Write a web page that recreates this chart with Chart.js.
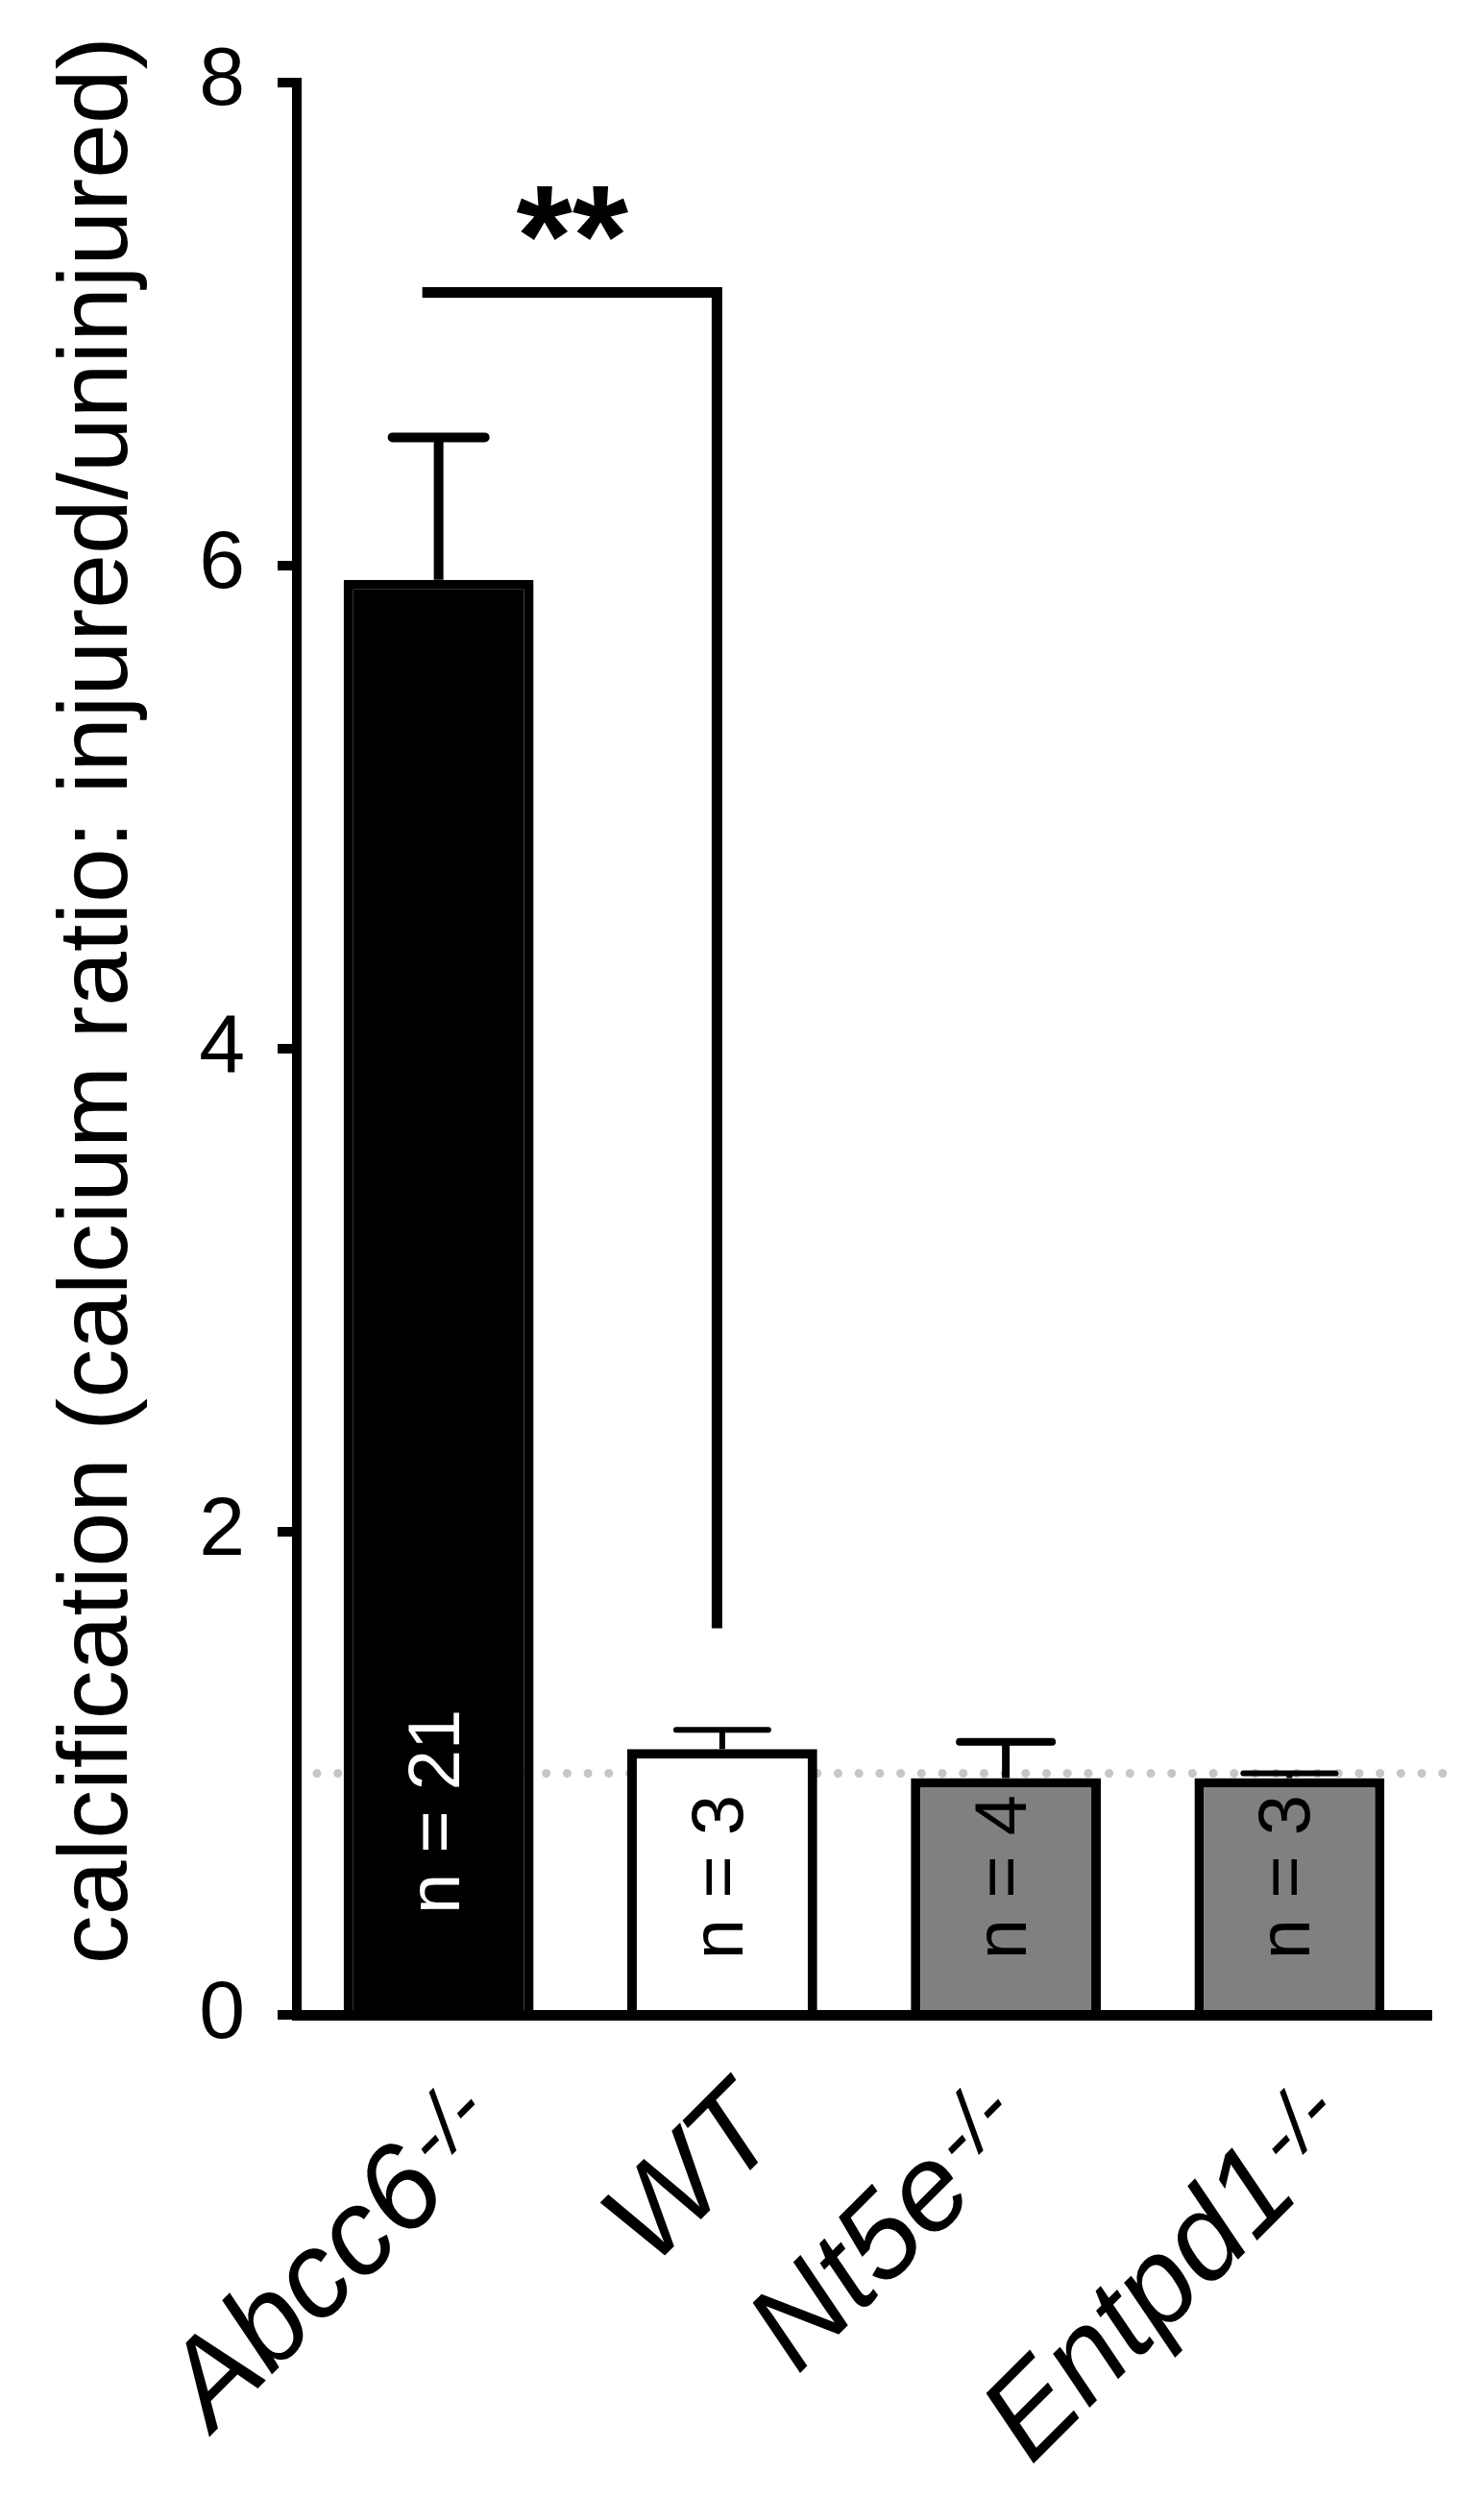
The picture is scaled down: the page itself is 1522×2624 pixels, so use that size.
<!DOCTYPE html>
<html><head><meta charset="utf-8">
<script src="https://cdn.jsdelivr.net/npm/chart.js@4.4.1/dist/chart.umd.min.js"></script>
<style>html,body{margin:0;padding:0;background:#fff;} canvas{display:block;}</style>
</head><body>
<canvas id="c" width="1522" height="2624"></canvas>
<script>
// ---------------- data ----------------
const categories = ['Abcc6', 'WT', 'Nt5e', 'Entpd1'];
const genotypeSuffix = ['-/-', '', '-/-', '-/-'];
const meanValues = [5.94, 1.10, 0.98, 0.98];
const errorValues = [0.59, 0.08, 0.15, 0.02];
const sampleSizes = [21, 3, 4, 3];
const yTickValues = [0, 2, 4, 6, 8];
const referenceValue = [1.0];
const comparisonPair = [0, 1];
const comparisonLevels = [7.13, 1.6];
const comparisonLabel = '**';
const yAxisTitle = 'calcification (calcium ratio: injured/uninjured)';

// ---------------- styles ----------------
const FONT = '"Liberation Sans", Arial, Helvetica, sans-serif';
const barFills = ['#000000', '#ffffff', '#808080', '#808080'];
const nLabelColors = ['#ffffff', '#000000', '#000000', '#000000'];
const nLabelStart = [0.417, 0.23, 0.23, 0.23];   // where the rotated text starts (value units)
const errLineWidths = [10, 6, 8, 6];
const xLabelShift = [0, -10, -42, 0];             // fine horizontal nudges of category labels (px)

const overlay = {
  id: 'overlay',
  beforeDatasetsDraw(chart) {
    const {ctx, chartArea, scales: {y}} = chart;
    const yy = y.getPixelForValue(referenceValue[0]);
    ctx.save();
    ctx.strokeStyle = '#c6c6c6';
    ctx.lineWidth = 9;
    ctx.lineCap = 'round';
    ctx.setLineDash([0, 21.7]);
    ctx.beginPath();
    ctx.moveTo(chartArea.left + 21, yy);
    ctx.lineTo(chartArea.right + 12, yy);
    ctx.stroke();
    ctx.restore();
  },
  afterDatasetsDraw(chart) {
    const {ctx, chartArea, scales: {x, y}} = chart;
    ctx.save();
    // error bars (upper only)
    ctx.strokeStyle = '#000';
    meanValues.forEach((v, i) => {
      const cx = x.getPixelForValue(i);
      const top = y.getPixelForValue(v);
      const ey = y.getPixelForValue(v + errorValues[i]);
      ctx.lineWidth = errLineWidths[i];
      ctx.lineCap = 'butt';
      ctx.beginPath(); ctx.moveTo(cx, top); ctx.lineTo(cx, ey); ctx.stroke();
      ctx.lineCap = 'round';
      ctx.beginPath(); ctx.moveTo(cx - 48, ey); ctx.lineTo(cx + 48, ey); ctx.stroke();
    });
    // n labels
    ctx.font = '76px ' + FONT;
    ctx.textAlign = 'left';
    ctx.textBaseline = 'middle';
    sampleSizes.forEach((n, i) => {
      const cx = x.getPixelForValue(i);
      const sy = y.getPixelForValue(nLabelStart[i]);
      ctx.save();
      ctx.translate(cx, sy);
      ctx.rotate(-Math.PI / 2);
      ctx.fillStyle = nLabelColors[i];
      ctx.fillText('n = ' + n, 0, 0);
      ctx.restore();
    });
    // significance bracket
    const x1 = x.getPixelForValue(comparisonPair[0]) - 17;
    const x2 = x.getPixelForValue(comparisonPair[1]);
    const yTop = y.getPixelForValue(comparisonLevels[0]);
    const yBot = y.getPixelForValue(comparisonLevels[1]);
    ctx.lineWidth = 11;
    ctx.lineCap = 'butt';
    ctx.lineJoin = 'miter';
    ctx.beginPath();
    ctx.moveTo(x1, yTop);
    ctx.lineTo(x2 - 5.5, yTop);
    ctx.lineTo(x2 - 5.5, yBot);
    ctx.stroke();
    ctx.fillStyle = '#000';
    ctx.font = 'bold 150px ' + FONT;
    ctx.textAlign = 'center';
    ctx.textBaseline = 'alphabetic';
    ctx.fillText(comparisonLabel, (x1 + x2) / 2, yTop - 6);
    ctx.restore();
  },
  afterDraw(chart) {
    const {ctx, chartArea, scales: {x}} = chart;
    ctx.save();
    ctx.fillStyle = '#000';
    // y axis title
    ctx.save();
    ctx.font = '102px ' + FONT;
    ctx.textAlign = 'center';
    ctx.textBaseline = 'alphabetic';
    ctx.translate(132, (chartArea.top + chartArea.bottom) / 2 - 50);
    ctx.rotate(-Math.PI / 2);
    ctx.fillText(yAxisTitle, 0, 0);
    ctx.restore();
    // x category labels (italic, rotated 45deg, with superscript)
    const mainSize = 126, supSize = 86, gap = 6;
    categories.forEach((lab, i) => {
      const cx = x.getPixelForValue(i);
      ctx.save();
      ctx.translate(cx + 75 + xLabelShift[i], chartArea.bottom + 126);
      ctx.rotate(-Math.PI / 4);
      ctx.textBaseline = 'alphabetic';
      ctx.textAlign = 'left';
      ctx.font = 'italic ' + mainSize + 'px ' + FONT;
      const wm = ctx.measureText(lab).width;
      let ws = 0;
      const sup = genotypeSuffix[i];
      if (sup) {
        ctx.font = 'italic ' + supSize + 'px ' + FONT;
        ws = ctx.measureText(sup).width + gap;
      }
      ctx.font = 'italic ' + mainSize + 'px ' + FONT;
      ctx.fillText(lab, -(wm + ws), 0);
      if (sup) {
        ctx.font = 'italic ' + supSize + 'px ' + FONT;
        ctx.fillText(sup, -(ws - gap), -30);
      }
      ctx.restore();
    });
    ctx.restore();
  }
};

new Chart(document.getElementById('c'), {
  type: 'bar',
  data: {
    labels: categories,
    datasets: [{
      data: meanValues,
      backgroundColor: barFills,
      borderColor: '#000000',
      borderWidth: 10,
      borderSkipped: 'start',
      categoryPercentage: 1.0,
      barPercentage: 0.67
    }]
  },
  options: {
    responsive: false,
    animation: false,
    devicePixelRatio: 1,
    layout: { padding: { top: 83, right: 32, bottom: 0, left: 0 } },
    plugins: { legend: { display: false }, tooltip: { enabled: false } },
    scales: {
      x: {
        grid: { display: false, drawTicks: false },
        border: { display: true, color: '#000', width: 11 },
        ticks: { display: false },
        afterFit(s) { s.height = 526; }
      },
      y: {
        min: 0, max: 8,
        afterBuildTicks(s) { s.ticks = yTickValues.map(v => ({ value: v })); },
        ticks: { font: { family: FONT, size: 86 }, color: '#000', padding: 34 },
        grid: { drawOnChartArea: false, tickLength: 20, lineWidth: 10, tickWidth: 10, color: '#000' },
        border: { display: true, color: '#000', width: 10 },
        afterFit(s) { s.width = 309; }
      }
    }
  },
  plugins: [overlay]
});
</script>
</body></html>
